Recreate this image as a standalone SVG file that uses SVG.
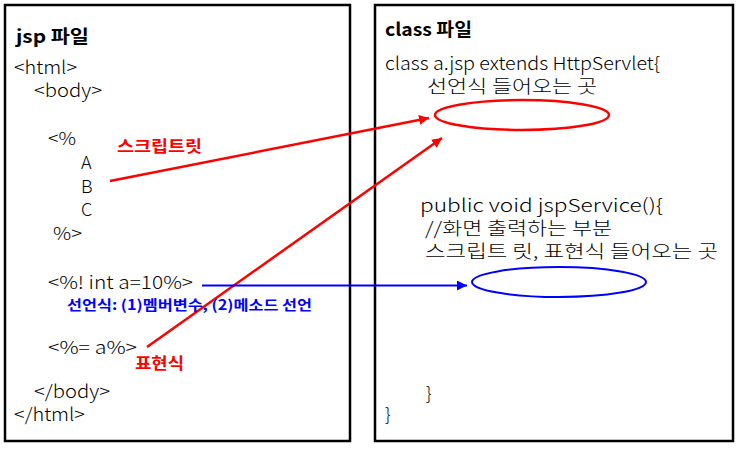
<svg xmlns="http://www.w3.org/2000/svg" width="740" height="450" viewBox="0 0 740 450">
<style>
  text { font-family: "Noto Sans CJK KR", "Noto Sans", sans-serif; fill: #000; }
  .code { font-size: 18px; font-weight: 300; }
  .ko { font-size: 18px; font-weight: 300; }
  .title { font-size: 18px; font-weight: bold; }
  .box { fill: #fff; stroke: #000; stroke-width: 2.5; }
  .red { stroke: #ff0000; stroke-width: 2.5; fill: none; }
  .blue { stroke: #0000ff; stroke-width: 2; fill: none; }
  .rlabel { fill: #ff0000; font-weight: bold; font-size: 16px; }
  .blabel { fill: #0000ff; font-weight: bold; font-size: 14px; }
</style>
<defs>
  <marker id="ar" viewBox="0 0 10 10" refX="10" refY="5" markerWidth="4" markerHeight="4" orient="auto" markerUnits="strokeWidth">
    <path d="M0,0 L10,5 L0,10 z" fill="#ff0000"/>
  </marker>
  <marker id="ab" viewBox="0 0 10 10" refX="10" refY="5" markerWidth="5" markerHeight="5" orient="auto" markerUnits="strokeWidth">
    <path d="M0,0 L10,5 L0,10 z" fill="#0000ff"/>
  </marker>
</defs>
<rect width="740" height="450" fill="#fff"/>
<g id="jsp-file">
  <rect class="box" x="5" y="5" width="345" height="436"/>
  <text class="title" x="16" y="43" textLength="73" lengthAdjust="spacingAndGlyphs">jsp 파일</text>
  <text class="code" x="14" y="74" textLength="63" lengthAdjust="spacingAndGlyphs">&lt;html&gt;</text>
  <text class="code" x="34" y="97" textLength="68" lengthAdjust="spacingAndGlyphs">&lt;body&gt;</text>
  <text class="code" x="48" y="145" textLength="28" lengthAdjust="spacingAndGlyphs">&lt;%</text>
  <text class="code" x="81" y="169">A</text>
  <text class="code" x="81" y="193">B</text>
  <text class="code" x="81" y="216">C</text>
  <text class="code" x="53" y="240" textLength="29" lengthAdjust="spacingAndGlyphs">%&gt;</text>
  <text class="code" x="48" y="289" textLength="145" lengthAdjust="spacingAndGlyphs">&lt;%! int a=10%&gt;</text>
  <text class="code" x="48" y="354" textLength="89" lengthAdjust="spacingAndGlyphs">&lt;%=  a%&gt;</text>
  <text class="code" x="34" y="398" textLength="76" lengthAdjust="spacingAndGlyphs">&lt;/body&gt;</text>
  <text class="code" x="14" y="421" textLength="71" lengthAdjust="spacingAndGlyphs">&lt;/html&gt;</text>
</g>
<g id="class-file">
  <rect class="box" x="375" y="5" width="358" height="436"/>
  <text class="title" x="385" y="36" textLength="87" lengthAdjust="spacingAndGlyphs">class 파일</text>
  <text class="code" x="385" y="70" textLength="275" lengthAdjust="spacingAndGlyphs">class a.jsp extends HttpServlet{</text>
  <text class="ko" x="427" y="93" textLength="170" lengthAdjust="spacingAndGlyphs">선언식 들어오는 곳</text>
  <ellipse id="decl-slot" class="red" cx="522" cy="115" rx="87" ry="15"/>
  <text class="code" x="420" y="212" textLength="243" lengthAdjust="spacingAndGlyphs">public void jspService(){</text>
  <text class="ko" x="425" y="235" textLength="187" lengthAdjust="spacingAndGlyphs">//화면 출력하는 부분</text>
  <text class="ko" x="425" y="258" textLength="293" lengthAdjust="spacingAndGlyphs">스크립트 릿, 표현식 들어오는 곳</text>
  <ellipse id="service-slot" class="blue" cx="559" cy="282" rx="87" ry="15"/>
  <text class="code" x="426" y="400">}</text>
  <text class="code" x="385" y="421">}</text>
</g>
<g id="connectors">
  <line class="red" x1="110" y1="181" x2="429" y2="118" marker-end="url(#ar)"/>
  <line class="red" x1="147" y1="347" x2="442" y2="138" marker-end="url(#ar)"/>
  <line class="blue" x1="202" y1="285.5" x2="467" y2="285.5" marker-end="url(#ab)"/>
</g>
<g id="labels">
  <text class="rlabel" x="117" y="152" textLength="85" lengthAdjust="spacingAndGlyphs">스크립트릿</text>
  <text class="blabel" x="67" y="310" textLength="245" lengthAdjust="spacingAndGlyphs">선언식: (1)멤버변수, (2)메소드 선언</text>
  <text class="rlabel" x="135" y="369" textLength="49" lengthAdjust="spacingAndGlyphs">표현식</text>
</g>
</svg>
